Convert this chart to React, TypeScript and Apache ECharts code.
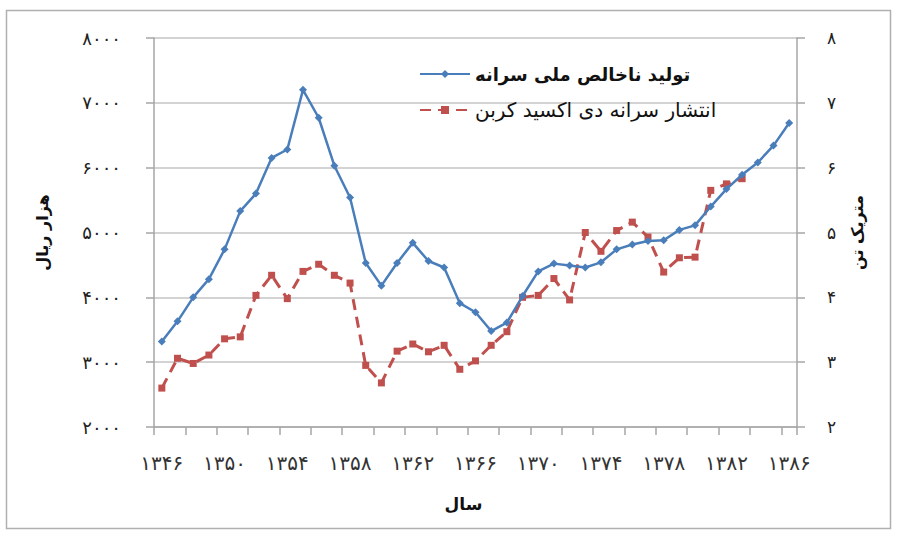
import React, { useEffect, useRef } from "react";
import * as echarts from "echarts";

const years = [
  "۱۳۴۶", "۱۳۴۷", "۱۳۴۸", "۱۳۴۹", "۱۳۵۰", "۱۳۵۱", "۱۳۵۲", "۱۳۵۳", "۱۳۵۴", "۱۳۵۵",
  "۱۳۵۶", "۱۳۵۷", "۱۳۵۸", "۱۳۵۹", "۱۳۶۰", "۱۳۶۱", "۱۳۶۲", "۱۳۶۳", "۱۳۶۴", "۱۳۶۵",
  "۱۳۶۶", "۱۳۶۷", "۱۳۶۸", "۱۳۶۹", "۱۳۷۰", "۱۳۷۱", "۱۳۷۲", "۱۳۷۳", "۱۳۷۴", "۱۳۷۵",
  "۱۳۷۶", "۱۳۷۷", "۱۳۷۸", "۱۳۷۹", "۱۳۸۰", "۱۳۸۱", "۱۳۸۲", "۱۳۸۳", "۱۳۸۴", "۱۳۸۵",
  "۱۳۸۶",
];

// GNI per capita (thousand rials)
const gniPerCapita = [
  3320, 3630, 4000, 4280, 4740, 5330, 5600, 6150, 6280, 7200,
  6770, 6030, 5540, 4530, 4180, 4530, 4840, 4560, 4460, 3910,
  3770, 3480, 3610, 4020, 4400, 4520, 4490, 4460, 4540, 4740,
  4815, 4870, 4880, 5040, 5110, 5400, 5670, 5890, 6080, 6340,
  6690,
];

// CO2 emissions per capita (metric tons)
const co2PerCapita: (number | null)[] = [
  2.6, 3.06, 2.98, 3.11, 3.36, 3.39, 4.03, 4.34, 3.98, 4.4,
  4.51, 4.34, 4.22, 2.95, 2.68, 3.17, 3.28, 3.16, 3.26, 2.89,
  3.02, 3.26, 3.47, 4.0, 4.03, 4.29, 3.96, 5.0, 4.71, 5.03,
  5.16, 4.93, 4.39, 4.61, 4.62, 5.65, 5.75, 5.83, null, null,
  null,
];

const leftTickLabels = ["۲۰۰۰", "۳۰۰۰", "۴۰۰۰", "۵۰۰۰", "۶۰۰۰", "۷۰۰۰", "۸۰۰۰"];
const rightTickLabels = ["۲", "۳", "۴", "۵", "۶", "۷", "۸"];

const seriesNames = ["تولید ناخالص ملی سرانه", "انتشار سرانه دی اکسید کربن"];
const xAxisTitle = "سال";
const leftAxisTitle = "هزار ریال";
const rightAxisTitle = "متریک تن";

const FONT = "DejaVu Sans";
const BLUE = "#4a7ebb";
const RED = "#c0504d";

export default function App() {
  const ref = useRef<HTMLDivElement>(null);
  useEffect(() => {
    if (!ref.current) return;
    const chart = echarts.init(ref.current, null, { renderer: "svg" });
    chart.setOption({
      animation: false,
      backgroundColor: "#ffffff",
      textStyle: { fontFamily: FONT },
      graphic: [
        {
          type: "rect",
          shape: { x: 6.5, y: 10.5, width: 884, height: 518 },
          style: { fill: "none", stroke: "#b0b0b0", lineWidth: 1.5 },
          silent: true,
        },
      ],
      grid: { left: 154, right: 101, top: 38, bottom: 108 },
      legend: {
        orient: "vertical",
        left: 414,
        top: 60,
        itemWidth: 50,
        itemHeight: 10,
        itemGap: 17,
        data: [
          { name: seriesNames[0], textStyle: { fontWeight: "bold", fontSize: 18 } },
          { name: seriesNames[1], textStyle: { fontWeight: "normal", fontSize: 20 } },
        ],
        textStyle: { fontFamily: FONT, fontSize: 18, color: "#111" },
      },
      xAxis: {
        type: "category",
        data: years,
        boundaryGap: true,
        name: xAxisTitle,
        nameLocation: "middle",
        nameGap: 68,
        nameTextStyle: { fontFamily: FONT, fontSize: 17, fontWeight: "bold", color: "#111", padding: [0, 24, 0, 0] },
        axisLine: { lineStyle: { color: "#a6a6a6", width: 1.5 } },
        axisTick: { show: true, interval: 1, length: 8, lineStyle: { color: "#a6a6a6", width: 1.5 } },
        axisLabel: { interval: 3, margin: 26, fontFamily: FONT, fontSize: 20, color: "#333" },
        splitLine: { show: false },
      },
      yAxis: [
        {
          type: "value",
          min: 2000,
          max: 8000,
          interval: 1000,
          position: "left",
          name: leftAxisTitle,
          nameLocation: "middle",
          nameRotate: 90,
          nameGap: 104,
          nameTextStyle: { fontFamily: FONT, fontSize: 16, fontWeight: "bold", color: "#111" },
          axisLine: { show: true, lineStyle: { color: "#a6a6a6", width: 1.5 } },
          axisTick: { show: true, inside: false, length: 8, lineStyle: { color: "#a6a6a6", width: 1.5 } },
          axisLabel: {
            margin: 33,
            fontFamily: FONT,
            fontSize: 18,
            color: "#222",
            formatter: (v: number) => leftTickLabels[Math.round((v - 2000) / 1000)] ?? "",
          },
          splitLine: { show: true, lineStyle: { color: "#c4c4c4", width: 1.5 } },
        },
        {
          type: "value",
          min: 2,
          max: 8,
          interval: 1,
          position: "right",
          name: rightAxisTitle,
          nameLocation: "middle",
          nameRotate: 90,
          nameGap: 52,
          nameTextStyle: { fontFamily: FONT, fontSize: 16, fontWeight: "bold", color: "#111" },
          axisLine: { show: true, lineStyle: { color: "#a6a6a6", width: 1.5 } },
          axisTick: { show: true, inside: false, length: 8, lineStyle: { color: "#a6a6a6", width: 1.5 } },
          axisLabel: {
            margin: 30,
            fontFamily: FONT,
            fontSize: 17,
            color: "#222",
            formatter: (v: number) => rightTickLabels[Math.round(v - 2)] ?? "",
          },
          splitLine: { show: false },
        },
      ],
      series: [
        {
          name: seriesNames[0],
          type: "line",
          yAxisIndex: 0,
          data: gniPerCapita,
          symbol: "diamond",
          symbolSize: 8,
          color: BLUE,
          itemStyle: { color: BLUE },
          lineStyle: { color: BLUE, width: 2.5 },
          z: 3,
        },
        {
          name: seriesNames[1],
          type: "line",
          yAxisIndex: 1,
          data: co2PerCapita,
          symbol: "rect",
          symbolSize: 7,
          color: RED,
          itemStyle: { color: RED },
          lineStyle: { color: RED, width: 3, type: [11, 7] },
          z: 2,
        },
      ],
    });
    return () => chart.dispose();
  }, []);
  return (
    <div
      ref={ref}
      style={{ position: "fixed", left: 0, top: 0, width: 898, height: 535 }}
    />
  );
}
